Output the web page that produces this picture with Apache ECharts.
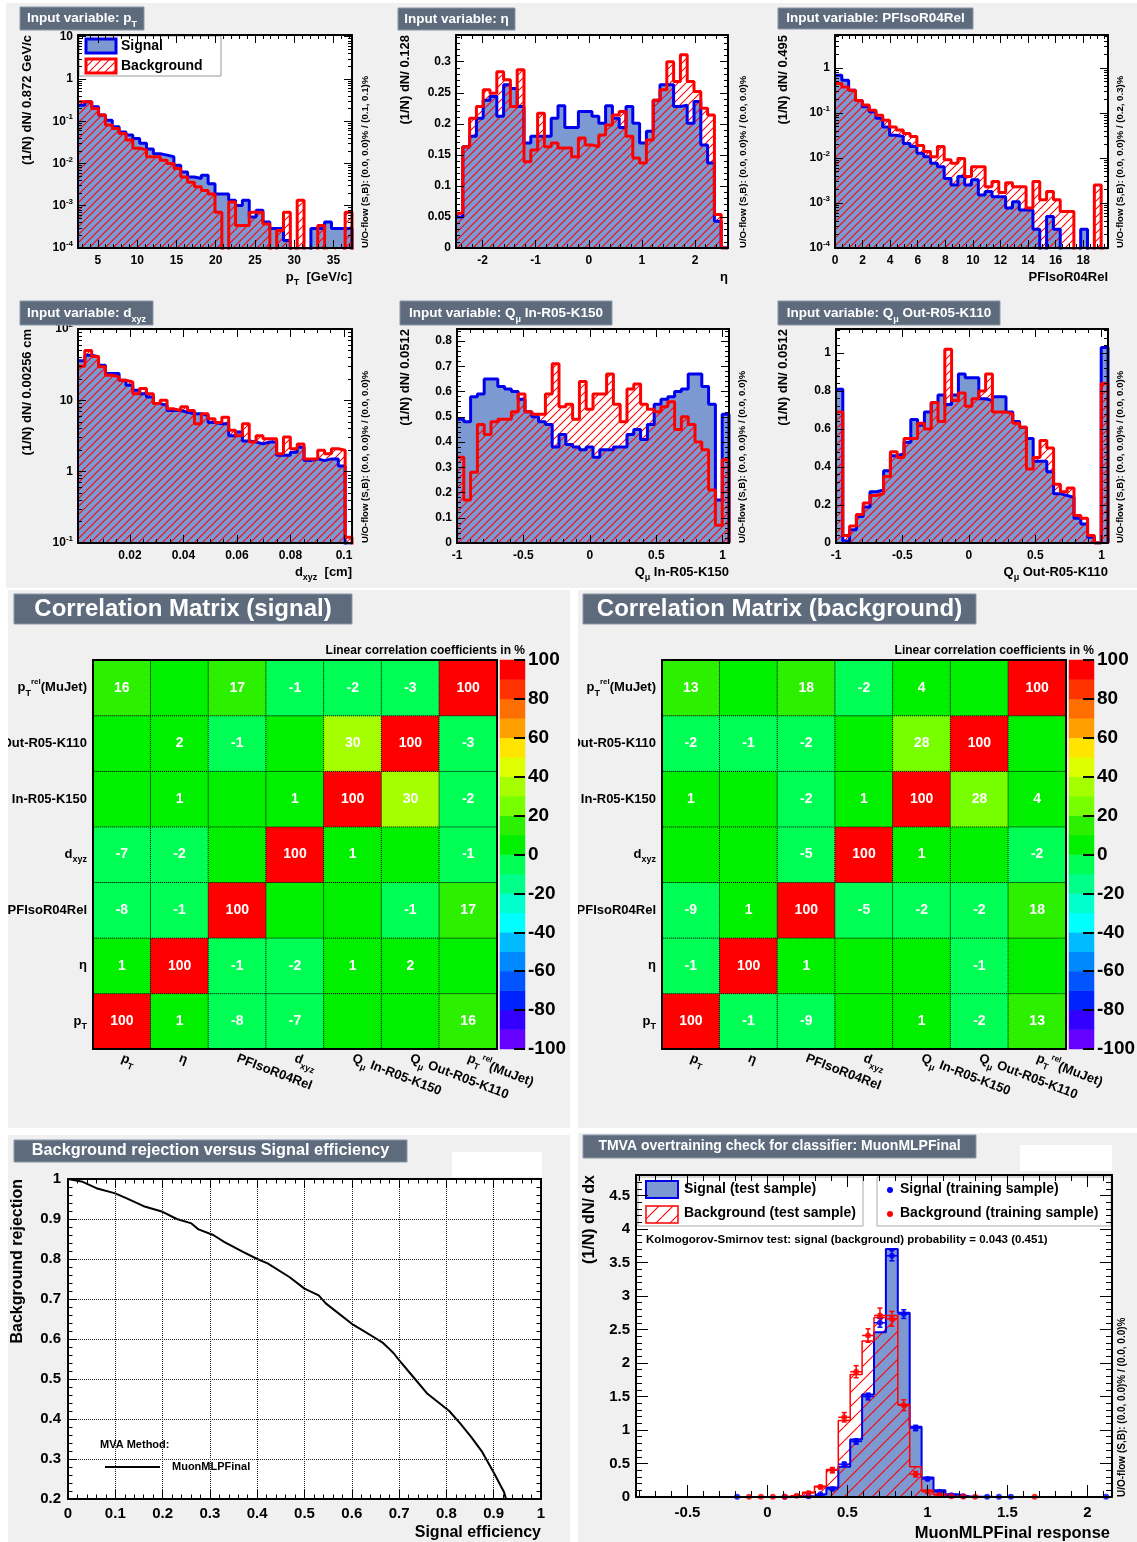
<!DOCTYPE html>
<html>
<head>
<meta charset="utf-8">
<script src="https://cdn.jsdelivr.net/npm/echarts@6.0.0/dist/echarts.min.js"></script>
<style>
html,body{margin:0;padding:0;background:#ffffff;}
body{position:relative;width:1137px;height:1542px;overflow:hidden;}
.pn{position:absolute;}
</style>
</head>
<body>
<div id="pTop" class="pn" style="left:6px;top:3px;width:1131px;height:585px"></div>
<div id="pCS" class="pn" style="left:8px;top:590px;width:562px;height:538px"></div>
<div id="pCB" class="pn" style="left:578px;top:590px;width:559px;height:538px"></div>
<div id="pROC" class="pn" style="left:8px;top:1135px;width:562px;height:407px"></div>
<div id="pTM" class="pn" style="left:578px;top:1133px;width:559px;height:409px"></div>
<script>
// ======================= DATA =======================
// Input-variable histograms (40 bins each, (1/N) dN/dx)
const ptBins = {lo: 2.47, width: 0.872};
const ptSig = [0.24, 0.29, 0.22, 0.14, 0.106, 0.074, 0.056, 0.047, 0.039, 0.030, 0.022, 0.017, 0.0158, 0.0144, 0.0091, 0.0063, 0.0048, 0.0044, 0.0053, 0.0033, 0.0019, 0.0019, 0.00135, 0.00102, 0.00135, 0.00054, 0.00078, 0.00041, 0.00029, 0.00029, 0.00015, 0, 0, 0, 0.00029, 0.00029, 0.00041, 0.00029, 0.00029, 0.00029];
const ptBkg = [0.29, 0.29, 0.20, 0.14, 0.081, 0.067, 0.051, 0.036, 0.023, 0.021, 0.0144, 0.0144, 0.012, 0.010, 0.0076, 0.0048, 0.0036, 0.0028, 0.0023, 0.0019, 0.0007, 0, 0.00123, 0.00034, 0.00034, 0.0007, 0.0007, 0.00037, 0, 0.00026, 0.0007, 0, 0.00135, 0, 0, 0.00034, 0, 0, 0, 0.0007];

const etaBins = {lo: -2.5, width: 0.128};
const etaSig = [0.050, 0.163, 0.180, 0.209, 0.238, 0.244, 0.212, 0.263, 0.257, 0.228, 0.169, 0.180, 0.180, 0.180, 0.209, 0.229, 0.194, 0.194, 0.220, 0.220, 0.212, 0.201, 0.229, 0.209, 0.194, 0.228, 0.201, 0.169, 0.188, 0.238, 0.263, 0.263, 0.228, 0.230, 0.201, 0.236, 0.166, 0.137, 0.043, 0];
const etaBkg = [0.056, 0.163, 0.209, 0.228, 0.255, 0.249, 0.284, 0.271, 0.228, 0.287, 0.139, 0.158, 0.217, 0.163, 0.169, 0.161, 0.161, 0.147, 0.177, 0.166, 0.163, 0.182, 0.198, 0.214, 0.220, 0.180, 0.145, 0.137, 0.174, 0.238, 0.255, 0.300, 0.268, 0.311, 0.268, 0.252, 0.225, 0.214, 0.054, 0];

const isoBins = {lo: 0, width: 0.495};
const isoSig = [0.69, 0.53, 0.32, 0.19, 0.137, 0.106, 0.076, 0.049, 0.032, 0.030, 0.021, 0.018, 0.0127, 0.0107, 0.0076, 0.0064, 0.0035, 0.0025, 0.0039, 0.0025, 0.0033, 0.0015, 0.0018, 0.00138, 0.00138, 0.00077, 0.00106, 0.0007, 0.0007, 0.00026, 0, 0.0005, 0.00026, 0, 0, 0, 0.00026, 0, 0, 0];
const isoBkg = [0.45, 0.38, 0.32, 0.19, 0.15, 0.115, 0.089, 0.069, 0.049, 0.042, 0.035, 0.030, 0.019, 0.014, 0.0107, 0.018, 0.0091, 0.0076, 0.0098, 0.0039, 0.0064, 0.0064, 0.0023, 0.0030, 0.0017, 0.0028, 0.0023, 0.0023, 0.00077, 0.0030, 0.00118, 0.0018, 0.00118, 0.00065, 0.00065, 0, 0, 0, 0.0025, 0];

const dxyzBins = {lo: 0.0006, width: 0.00256};
const dxyzSig = [36, 43, 41, 31, 23.7, 23.7, 19.1, 16.3, 13.8, 12.4, 11.1, 9.0, 8.5, 7.2, 7.2, 6.8, 6.5, 6.5, 6.1, 4.9, 4.7, 4.7, 3.2, 3.6, 2.7, 2.6, 2.45, 2.6, 2.6, 1.7, 1.7, 1.87, 2.2, 1.43, 1.51, 1.43, 1.51, 1.51, 1.2, 0.09];
const dxyzBkg = [30, 50, 41, 29.5, 22.5, 21.3, 19.1, 18.1, 12.4, 14.6, 12.4, 9.0, 10, 7.6, 7.2, 8.1, 7.2, 4.7, 6.5, 5.5, 4.9, 5.8, 3.8, 3.2, 4.7, 2.6, 3.2, 2.9, 2.9, 1.78, 3.05, 2.09, 2.45, 1.51, 1.51, 2.0, 1.78, 2.09, 2.0, 0.12];

const qinBins = {lo: -1, width: 0.0512};
const qinSig = [0.49, 0.48, 0.58, 0.59, 0.65, 0.65, 0.62, 0.61, 0.60, 0.57, 0.52, 0.50, 0.48, 0.47, 0.38, 0.43, 0.39, 0.38, 0.37, 0.38, 0.34, 0.37, 0.37, 0.38, 0.38, 0.43, 0.45, 0.41, 0.47, 0.55, 0.57, 0.58, 0.60, 0.61, 0.67, 0.67, 0.62, 0.55, 0.17, 0.51];
const qinBkg = [0.34, 0.17, 0.28, 0.47, 0.43, 0.48, 0.49, 0.49, 0.52, 0.59, 0.52, 0.51, 0.51, 0.59, 0.71, 0.54, 0.55, 0.49, 0.64, 0.53, 0.59, 0.59, 0.67, 0.55, 0.48, 0.61, 0.63, 0.55, 0.53, 0.52, 0.54, 0.56, 0.45, 0.50, 0.47, 0.40, 0.37, 0.21, 0.07, 0.33];

const qoutBins = {lo: -1, width: 0.0512};
const qoutSig = [0.81, 0.01, 0.07, 0.14, 0.19, 0.27, 0.28, 0.38, 0.46, 0.47, 0.53, 0.65, 0.62, 0.69, 0.74, 0.78, 0.73, 0.78, 0.89, 0.87, 0.87, 0.76, 0.75, 0.77, 0.77, 0.69, 0.64, 0.61, 0.55, 0.43, 0.43, 0.375, 0.26, 0.25, 0.24, 0.13, 0.10, 0.03, 0, 1.03];
const qoutBkg = [0.69, 0.04, 0.09, 0.15, 0.21, 0.25, 0.26, 0.35, 0.48, 0.45, 0.55, 0.55, 0.63, 0.60, 0.74, 0.64, 1.02, 0.75, 0.79, 0.72, 0.76, 0.80, 0.89, 0.69, 0.69, 0.68, 0.63, 0.61, 0.39, 0.45, 0.54, 0.50, 0.31, 0.27, 0.29, 0.145, 0.13, 0.04, 0, 0.84];

// Correlation matrices (%), variable order below; row i / column j
const corrVars = ['p{s|T}', 'η', 'PFIsoR04Rel', 'd{s|xyz}', 'Q{s|μ} In-R05-K150', 'Q{s|μ} Out-R05-K110', 'p{s|T}{u|rel}(MuJet)'];
const corrSignal = [
  [100, 1, -8, -7, 0, 0, 16],
  [1, 100, -1, -2, 1, 2, 0],
  [-8, -1, 100, 0, 0, -1, 17],
  [-7, -2, 0, 100, 1, 0, -1],
  [0, 1, 0, 1, 100, 30, -2],
  [0, 2, -1, 0, 30, 100, -3],
  [16, 0, 17, -1, -2, -3, 100]
];
const corrBackground = [
  [100, -1, -9, 0, 1, -2, 13],
  [-1, 100, 1, 0, 0, -1, 0],
  [-9, 1, 100, -5, -2, -2, 18],
  [0, 0, -5, 100, 1, 0, -2],
  [1, 0, -2, 1, 100, 28, 4],
  [-2, -1, -2, 0, 28, 100, 0],
  [13, 0, 18, -2, 4, 0, 100]
];
const colorbarLevels = [-95, -85, -75, -65, -55, -45, -35, -25, -15, -5, 5, 15, 25, 35, 45, 55, 65, 75, 85, 95];
const colorbarTicks = [-100, -80, -60, -40, -20, 0, 20, 40, 60, 80, 100];

// ROC curve
const rocEff = [0, 0.031, 0.06, 0.10, 0.123, 0.16, 0.20, 0.23, 0.261, 0.276, 0.307, 0.33, 0.37, 0.40, 0.422, 0.468, 0.50, 0.53, 0.545, 0.60, 0.622, 0.653, 0.665, 0.676, 0.688, 0.70, 0.73, 0.76, 0.806, 0.83, 0.853, 0.876, 0.902, 0.922, 0.926];
const rocRej = [1.0, 0.993, 0.977, 0.964, 0.952, 0.932, 0.918, 0.90, 0.889, 0.874, 0.86, 0.843, 0.818, 0.80, 0.789, 0.755, 0.726, 0.709, 0.689, 0.638, 0.622, 0.60, 0.591, 0.579, 0.565, 0.547, 0.505, 0.463, 0.42, 0.388, 0.354, 0.317, 0.262, 0.217, 0.2];

// Overtraining check: MuonMLPFinal response (40 bins)
const respBins = {lo: -0.822, width: 0.0744};
const respSigTest = [0,0,0,0,0,0,0,0,0,0, 0,0,0,0.004,0.012,0.04,0.14,0.45,0.86,1.53, 2.46,3.70,2.75,1.05,0.29,0.10,0.04,0.012,0.005,0.002, 0,0,0,0,0,0,0,0,0,0];
const respBkgTest = [0,0,0,0,0,0,0,0,0,0.003, 0.004,0.005,0.01,0.02,0.07,0.16,0.41,1.14,1.83,2.33, 2.68,2.71,1.38,0.45,0.10,0.04,0.015,0.006,0.003,0, 0,0,0,0.002,0,0,0,0,0,0];
const respSigTrain = [null,null,null,null,null,null,null,null,0.003,null, null,null,0.003,null,0.01,0.04,0.12,0.49,0.83,1.50, 2.60,3.60,2.73,1.03,0.27,0.08,0.025,0.01,null,0.003, 0.003,0.003,null,null,null,null,null,null,null,0.003];
const respSigTrainErr = [null,null,null,null,null,null,null,null,0.003,null, null,null,0.003,null,0.005,0.01,0.02,0.03,0.04,0.05, 0.065,0.075,0.065,0.04,0.02,0.01,0.006,0.004,null,0.003, 0.003,0.003,null,null,null,null,null,null,null,0.003];
const respBkgTrain = [null,null,null,null,null,null,null,null,null,0.003, 0.004,0.004,0.005,0.02,0.06,0.15,0.40,1.19,1.87,2.41, 2.71,2.66,1.37,0.34,0.08,0.03,0.01,0.006,0.004,null, null,null,null,0.003,null,null,null,null,null,null];
const respBkgTrainErr = [null,null,null,null,null,null,null,null,null,0.003, 0.003,0.003,0.003,0.008,0.015,0.025,0.04,0.07,0.09,0.10, 0.11,0.11,0.08,0.04,0.02,0.01,0.006,0.004,0.003,null, null,null,null,0.003,null,null,null,null,null,null];

// Tick label values
const ptTicks = [5, 10, 15, 20, 25, 30, 35];
const etaTicks = [-2, -1, 0, 1, 2];
const isoTicks = [0, 2, 4, 6, 8, 10, 12, 14, 16, 18];
const dxyzTicks = [0.02, 0.04, 0.06, 0.08, 0.1];
const qTicks = [-1, -0.5, 0, 0.5, 1];
const etaYTicks = [0, 0.05, 0.1, 0.15, 0.2, 0.25, 0.3];
const qinYTicks = [0, 0.1, 0.2, 0.3, 0.4, 0.5, 0.6, 0.7, 0.8];
const qoutYTicks = [0, 0.2, 0.4, 0.6, 0.8, 1];
const respXTicks = [-0.5, 0, 0.5, 1, 1.5, 2];
const respYTicks = [0, 0.5, 1, 1.5, 2, 2.5, 3, 3.5, 4, 4.5];

// ======================= STYLE / HELPERS =======================
const FONT = '"Liberation Sans", Arial, Helvetica, sans-serif';
const C_SIGF = '#7d99d1', C_SIGL = '#0000ee', C_BKG = '#ff0000';
const C_TBOX = '#5d6b7d', C_TBORD = '#8a97a8', C_CANVAS = '#f0f0f0';
const PALETTE = ['#6600ff','#3300ff','#0022ff','#0055ff','#0088ff','#00bbff','#00ffff','#00ffcc','#00ff88','#00ff55',
                 '#00f000','#2cf000','#77ff00','#a6ff00','#ddff00','#ffe400','#ffa000','#ff6e00','#ff3300','#ff0000'];

function hatch(size, lw) {
  const c = document.createElement('canvas'); c.width = size; c.height = size;
  const g = c.getContext('2d'); g.strokeStyle = '#ff0000'; g.lineWidth = lw;
  g.beginPath();
  for (const k of [-1, 0, 1]) { g.moveTo(k * size, size); g.lineTo(k * size + size, 0); }
  g.stroke();
  return c;
}
const HATCH = {image: hatch(8, 1.1), repeat: 'repeat'};
const HATCH2 = {image: hatch(14, 1.1), repeat: 'repeat'};

function seq(a, b, s) { const o = []; const n = Math.round((b - a) / s); for (let i = 0; i <= n; i++) o.push(+(a + i * s).toFixed(8)); return o; }
function logMajor(lo, hi) { const o = []; for (let e = -8; e <= 8; e++) { const v = +Math.pow(10, e).toPrecision(6); if (v >= lo * 0.999 && v <= hi * 1.001) o.push(v); } return o; }
function logMinor(lo, hi) { const o = []; for (let e = -8; e <= 8; e++) for (let m = 2; m < 10; m++) { const v = +(m * Math.pow(10, e)).toPrecision(6); if (v > lo && v < hi) o.push(v); } return o; }
const logFmt = v => { const e = Math.round(Math.log10(v)); return e === 0 ? '1' : (e === 1 ? '10' : '10{u|' + e + '}'); };
const numFmt = v => String(+(+v).toFixed(6));

const RICH_AX = {
  u: {fontSize: 8, fontWeight: 'bold', fontFamily: FONT, color: '#000', verticalAlign: 'top', lineHeight: 8},
  s: {fontSize: 9, fontWeight: 'bold', fontFamily: FONT, color: '#000', verticalAlign: 'bottom', lineHeight: 9}
};
function richG(color, fs) {
  return {
    s: {fontSize: fs, fontWeight: 'bold', fontFamily: FONT, fill: color, verticalAlign: 'bottom', lineHeight: fs},
    u: {fontSize: fs, fontWeight: 'bold', fontFamily: FONT, fill: color, verticalAlign: 'top', lineHeight: fs}
  };
}

function makePanel(box) { return {box, grid: [], xAxis: [], yAxis: [], series: [], graphic: []}; }
function addGrid(P, x0, y0, x1, y1, bg) {
  P.grid.push({left: x0 - P.box.x, top: y0 - P.box.y, width: x1 - x0, height: y1 - y0, show: true,
    backgroundColor: bg || '#ffffff', borderWidth: 0, containLabel: false, outerBoundsMode: 'none'});
  return P.grid.length - 1;
}
// frame of value/log axes on all four sides with major/minor inside ticks
function addAxes(P, gi, dir, s) {
  const arr = dir === 'x' ? P.xAxis : P.yAxis;
  const pos = dir === 'x' ? ['bottom', 'top'] : ['left', 'right'];
  const common = {gridIndex: gi, type: s.type || 'value', min: s.min, max: s.max, splitLine: {show: false}, z: 6, silent: true};
  if (s.type === 'log') common.logBase = 10;
  const major = s.major, minor = s.minor;
  const tick = {color: '#000', width: 1};
  const idx = arr.length;
  arr.push(Object.assign({}, common, {position: pos[0],
    axisLine: {show: true, onZero: false, lineStyle: {color: '#000', width: s.lw || 2}},
    axisTick: {show: true, inside: true, length: s.len, customValues: major, lineStyle: tick},
    axisLabel: {show: true, customValues: major, formatter: s.fmt || numFmt, margin: s.margin, color: '#000',
      fontFamily: FONT, fontWeight: 'bold', fontSize: s.fs, rich: RICH_AX, lineHeight: 16}}));
  arr.push(Object.assign({}, common, {position: pos[0], axisLine: {show: false, onZero: false},
    axisTick: {show: true, inside: true, length: s.len / 2, customValues: minor, lineStyle: tick}, axisLabel: {show: false}}));
  arr.push(Object.assign({}, common, {position: pos[1],
    axisLine: {show: true, onZero: false, lineStyle: {color: '#000', width: s.lw || 2}},
    axisTick: {show: true, inside: true, length: s.len, customValues: major, lineStyle: tick}, axisLabel: {show: false}}));
  arr.push(Object.assign({}, common, {position: pos[1], axisLine: {show: false, onZero: false},
    axisTick: {show: true, inside: true, length: s.len / 2, customValues: minor, lineStyle: tick}, axisLabel: {show: false}}));
  return idx;
}
function addHist(P, xi, yi, bins, vals, o) {
  const N = vals.length, zero = o.log ? 1e-9 : 0;
  const data = vals.map((v, i) => [bins.lo + i * bins.width, v > 0 ? v : zero]);
  const xe = bins.lo + N * bins.width;
  data.push([xe, vals[N - 1] > 0 ? vals[N - 1] : zero]);
  data.push([xe, zero]);
  P.series.push({type: 'line', xAxisIndex: xi, yAxisIndex: yi, data, step: 'end', symbol: 'none', showSymbol: false,
    silent: true, animation: false, clip: true, z: 2,
    lineStyle: {color: o.line, width: o.lw}, areaStyle: {color: o.fill, opacity: 1, origin: 'auto'}});
}
function T(P, x, y, text, o) {
  o = o || {};
  const st = {text, fill: o.color || '#000', fontSize: o.fs || 13, fontWeight: 'bold', fontFamily: FONT,
    align: o.align || 'left', verticalAlign: o.va || 'middle'};
  if (o.rich) { st.rich = o.rich; st.lineHeight = o.lh || 20; }
  P.graphic.push({type: 'text', x: x - P.box.x, y: y - P.box.y, rotation: o.rot || 0, z: o.z || 10, silent: true, style: st});
}
function R(P, x0, y0, x1, y1, o) {
  P.graphic.push({type: 'rect', z: o.z || 9, silent: true,
    shape: {x: x0 - P.box.x, y: y0 - P.box.y, width: x1 - x0, height: y1 - y0},
    style: {fill: o.fill || 'none', stroke: o.stroke || 'none', lineWidth: o.lw || 0}});
}
function titleBox(P, x0, y0, x1, y1, text, fs) {
  R(P, x0, y0, x1, y1, {fill: C_TBOX, stroke: C_TBORD, lw: 1, z: 20});
  T(P, (x0 + x1) / 2, (y0 + y1) / 2, text, {fs, color: '#fff', align: 'center', rich: richG('#fff', Math.round(fs * 0.68)), lh: fs + 8, z: 21});
}
function render(id, P, extra) {
  const ch = echarts.init(document.getElementById(id), null, {renderer: 'canvas'});
  ch.setOption(Object.assign({animation: false, backgroundColor: C_CANVAS, textStyle: {fontFamily: FONT},
    grid: P.grid, xAxis: P.xAxis, yAxis: P.yAxis, series: P.series, graphic: P.graphic}, extra || {}));
}

// ======================= PANEL 1: INPUT VARIABLES =======================
const TOP = makePanel({x: 6, y: 3});
const INPUTS = [
  {sig: ptSig, bkg: ptBkg, bins: ptBins, fr: [78, 35, 352, 248],
   x: {min: 2.47, max: 37.35, major: ptTicks, minor: seq(3, 37, 1)}, y: {type: 'log', min: 1e-4, max: 11},
   title: [20, 7, 144, 30, 'Input variable: p{s|T}'], ytitle: '(1/N) dN/ 0.872 GeV/c', xtitle: 'p{s|T}  [GeV/c]',
   uo: 'U/O-flow (S,B): (0.0, 0.0)% / (0.1, 0.1)%', ytx: 27, uox: 365},
  {sig: etaSig, bkg: etaBkg, bins: etaBins, fr: [456, 35, 728, 248],
   x: {min: -2.5, max: 2.62, major: etaTicks, minor: seq(-2.4, 2.6, 0.2)}, y: {min: 0, max: 0.343, major: etaYTicks, minor: seq(0.01, 0.34, 0.01)},
   title: [398, 8, 515, 30, 'Input variable: η'], ytitle: '(1/N) dN/ 0.128', xtitle: 'η',
   uo: 'U/O-flow (S,B): (0.0, 0.0)% / (0.0, 0.0)%', ytx: 405, uox: 743},
  {sig: isoSig, bkg: isoBkg, bins: isoBins, fr: [835, 35, 1108, 248],
   x: {min: 0, max: 19.8, major: isoTicks, minor: seq(0.5, 19.5, 0.5)}, y: {type: 'log', min: 1e-4, max: 5.4},
   title: [778, 8, 973, 29, 'Input variable: PFIsoR04Rel'], ytitle: '(1/N) dN/ 0.495', xtitle: 'PFIsoR04Rel',
   uo: 'U/O-flow (S,B): (0.0, 0.0)% / (0.2, 0.3)%', ytx: 783, uox: 1120},
  {sig: dxyzSig, bkg: dxyzBkg, bins: dxyzBins, fr: [78, 329, 352, 543],
   x: {min: 0.0006, max: 0.103, major: dxyzTicks, minor: seq(0.005, 0.1, 0.005)}, y: {type: 'log', min: 0.1, max: 100},
   title: [20, 301, 153, 325, 'Input variable: d{s|xyz}'], ytitle: '(1/N) dN/ 0.00256 cm', xtitle: 'd{s|xyz}  [cm]',
   uo: 'U/O-flow (S,B): (0.0, 0.0)% / (0.0, 0.0)%', ytx: 27, uox: 365},
  {sig: qinSig, bkg: qinBkg, bins: qinBins, fr: [457, 329, 729, 543],
   x: {min: -1, max: 1.048, major: qTicks, minor: seq(-0.9, 1, 0.1)}, y: {min: 0, max: 0.848, major: qinYTicks, minor: seq(0.02, 0.84, 0.02)},
   title: [400, 301, 612, 325, 'Input variable: Q{s|μ} In-R05-K150'], ytitle: '(1/N) dN/ 0.0512', xtitle: 'Q{s|μ} In-R05-K150',
   uo: 'U/O-flow (S,B): (0.0, 0.0)% / (0.0, 0.0)%', ytx: 405, uox: 742},
  {sig: qoutSig, bkg: qoutBkg, bins: qoutBins, fr: [836, 329, 1108, 543],
   x: {min: -1, max: 1.048, major: qTicks, minor: seq(-0.9, 1, 0.1)}, y: {min: 0, max: 1.127, major: qoutYTicks, minor: seq(0.04, 1.12, 0.04)},
   title: [778, 301, 1000, 325, 'Input variable: Q{s|μ} Out-R05-K110'], ytitle: '(1/N) dN/ 0.0512', xtitle: 'Q{s|μ} Out-R05-K110',
   uo: 'U/O-flow (S,B): (0.0, 0.0)% / (0.0, 0.0)%', ytx: 783, uox: 1120}
];
INPUTS.forEach(h => {
  const [x0, y0, x1, y1] = h.fr;
  const gi = addGrid(TOP, x0, y0, x1, y1, '#ffffff');
  const xi = addAxes(TOP, gi, 'x', Object.assign({len: 8, fs: 12, margin: 5}, h.x));
  const ys = Object.assign({len: 8, fs: 12, margin: 5}, h.y);
  const isLog = h.y.type === 'log';
  if (isLog) { ys.major = logMajor(h.y.min, h.y.max); ys.minor = logMinor(h.y.min, h.y.max); ys.fmt = logFmt; }
  const yi = addAxes(TOP, gi, 'y', ys);
  addHist(TOP, xi, yi, h.bins, h.sig, {line: C_SIGL, fill: C_SIGF, lw: 3, log: isLog});
  addHist(TOP, xi, yi, h.bins, h.bkg, {line: C_BKG, fill: HATCH, lw: 3, log: isLog});
  titleBox(TOP, h.title[0], h.title[1], h.title[2], h.title[3], h.title[4], 13.5);
  T(TOP, h.ytx, y0, h.ytitle, {fs: 13, rot: Math.PI / 2, align: 'right'});
  T(TOP, x1, y1 + 29, h.xtitle, {fs: 13, align: 'right', rich: richG('#000', 9), lh: 20});
  T(TOP, h.uox, y1, h.uo, {fs: 9.6, rot: Math.PI / 2, align: 'left'});
});
// legend (pT plot)
R(TOP, 79, 36, 221, 76, {fill: '#ffffff', stroke: '#999999', lw: 1, z: 4});
R(TOP, 86, 39, 116, 53, {fill: C_SIGF, stroke: C_SIGL, lw: 3, z: 5});
R(TOP, 86, 59, 116, 73, {fill: HATCH, stroke: C_BKG, lw: 3, z: 5});
T(TOP, 121, 46, 'Signal', {fs: 14, z: 5});
T(TOP, 121, 66, 'Background', {fs: 14, z: 5});
render('pTop', TOP);

// ======================= PANELS 2/3: CORRELATION MATRICES =======================
function buildCorr(id, box, fr, cb, titleR, title, M) {
  const P = makePanel(box);
  const g0 = addGrid(P, fr[0], fr[1], fr[2], fr[3], '#ffffff');
  const g1 = addGrid(P, cb[0], cb[1], cb[2], cb[3], 'transparent');
  const line = {show: true, onZero: false, lineStyle: {color: '#000', width: 2}};
  const lbl = {interval: 0, fontFamily: FONT, fontWeight: 'bold', fontSize: 13, color: '#000', rich: RICH_AX, lineHeight: 20};
  // grid 0 axes: x 0 (bottom), x 1 (top), y 0 (left), y 1 (right)
  P.xAxis.push({gridIndex: g0, type: 'category', data: corrVars, position: 'bottom', z: 6, axisLine: line, axisTick: {show: false},
    axisLabel: Object.assign({rotate: -21, margin: 9}, lbl), splitLine: {show: false}});
  P.xAxis.push({gridIndex: g0, type: 'category', data: corrVars, position: 'top', z: 6, axisLine: line, axisTick: {show: false}, axisLabel: {show: false}});
  P.yAxis.push({gridIndex: g0, type: 'category', data: corrVars, position: 'left', z: 6, axisLine: line, axisTick: {show: false},
    axisLabel: Object.assign({margin: 6}, lbl), splitLine: {show: false}});
  P.yAxis.push({gridIndex: g0, type: 'category', data: corrVars, position: 'right', z: 6, axisLine: line, axisTick: {show: false}, axisLabel: {show: false}});
  // grid 1 (colour bar) axes: x 2, y 2 (category levels), y 3 (value labels)
  P.xAxis.push({gridIndex: g1, type: 'category', data: ['cb'], show: false});
  P.yAxis.push({gridIndex: g1, type: 'category', data: colorbarLevels.map(String), show: false});
  P.yAxis.push({gridIndex: g1, type: 'value', min: -100, max: 100, position: 'right', z: 6,
    axisLine: {show: false}, splitLine: {show: false},
    axisTick: {show: true, inside: true, length: 11, customValues: colorbarTicks, lineStyle: {color: '#000', width: 2}},
    axisLabel: {customValues: colorbarTicks, margin: 3, fontSize: 19, fontWeight: 'bold', fontFamily: FONT, color: '#000'}});
  const data = [];
  M.forEach((row, i) => row.forEach((v, j) => data.push([j, i, v])));
  P.series.push({type: 'heatmap', xAxisIndex: 0, yAxisIndex: 0, data, z: 2, silent: true, emphasis: {disabled: true},
    itemStyle: {borderColor: '#000', borderWidth: 1, borderType: 'dotted'},
    label: {show: true, color: '#fff', fontSize: 14, fontWeight: 'bold', fontFamily: FONT,
      formatter: p => (p.value[2] === 0 ? '' : String(p.value[2]))}});
  P.series.push({type: 'heatmap', xAxisIndex: 2, yAxisIndex: 2, data: colorbarLevels.map((v, i) => [0, i, v]), z: 2, silent: true,
    emphasis: {disabled: true}, label: {show: false}});
  const pieces = PALETTE.map((c, k) => k === 19 ? {gte: 90, lte: 100, color: c} : {gte: -100 + 10 * k, lt: -90 + 10 * k, color: c});
  titleBox(P, titleR[0], titleR[1], titleR[2], titleR[3], title, 24);
  T(P, cb[2], 651, 'Linear correlation coefficients in %', {fs: 12, align: 'right'});
  render(id, P, {visualMap: {type: 'piecewise', show: false, dimension: 2, seriesIndex: [0, 1], pieces}});
}
buildCorr('pCS', {x: 8, y: 590}, [93, 660, 497, 1049], [500, 660, 525, 1049], [14, 594, 352, 624], 'Correlation Matrix (signal)', corrSignal);
buildCorr('pCB', {x: 578, y: 590}, [662, 660, 1066, 1049], [1069, 660, 1094, 1049], [583, 594, 976, 624], 'Correlation Matrix (background)', corrBackground);

// ======================= PANEL 4: ROC =======================
(function () {
  const P = makePanel({x: 8, y: 1135});
  const gi = addGrid(P, 68, 1179, 541, 1499, '#ffffff');
  const mk = (pos, min, show) => ({gridIndex: gi, type: 'value', min, max: 1, interval: 0.1, position: pos, z: 6, silent: true,
    axisLine: {show: true, onZero: false, lineStyle: {color: '#000', width: 2}},
    axisTick: {show: true, inside: true, length: 9, lineStyle: {color: '#000'}},
    minorTick: {show: true, splitNumber: 5, length: 4.5, lineStyle: {color: '#000'}},
    axisLabel: {show, margin: 7, fontSize: 15, fontWeight: 'bold', fontFamily: FONT, color: '#000'},
    splitLine: {show: show, lineStyle: {color: '#222', width: 1, type: 'dotted'}}});
  P.xAxis.push(mk('bottom', 0, true), mk('top', 0, false));
  P.yAxis.push(mk('left', 0.2, true), mk('right', 0.2, false));
  P.series.push({type: 'line', xAxisIndex: 0, yAxisIndex: 0, data: rocEff.map((e, i) => [e, rocRej[i]]), symbol: 'none',
    lineStyle: {color: '#000', width: 2}, clip: true, z: 3, silent: true});
  titleBox(P, 14, 1140, 407, 1162, 'Background rejection versus Signal efficiency', 16.3);
  R(P, 452, 1152, 542, 1177, {fill: '#ffffff', z: 20});
  T(P, 18, 1179, 'Background rejection', {fs: 16, rot: Math.PI / 2, align: 'right'});
  T(P, 541, 1533, 'Signal efficiency', {fs: 16, align: 'right'});
  T(P, 100, 1445, 'MVA Method:', {fs: 11});
  P.graphic.push({type: 'line', z: 10, silent: true, shape: {x1: 105 - 8, y1: 1467 - 1135, x2: 160 - 8, y2: 1467 - 1135}, style: {stroke: '#000', lineWidth: 2}});
  T(P, 172, 1467, 'MuonMLPFinal', {fs: 11});
  render('pROC', P);
})();

// ======================= PANEL 5: OVERTRAINING =======================
(function () {
  const P = makePanel({x: 578, y: 1133});
  const gi = addGrid(P, 636, 1175, 1112, 1497, '#ffffff');
  const xmax = respBins.lo + respSigTest.length * respBins.width;
  const xi = addAxes(P, gi, 'x', {min: respBins.lo, max: xmax, major: respXTicks, minor: seq(-0.8, 2.1, 0.1), len: 12, fs: 15, margin: 8});
  const yi = addAxes(P, gi, 'y', {min: 0, max: 4.806, major: respYTicks, minor: seq(0.1, 4.8, 0.1), len: 12, fs: 15, margin: 6});
  addHist(P, xi, yi, respBins, respSigTest, {line: C_SIGL, fill: C_SIGF, lw: 2});
  addHist(P, xi, yi, respBins, respBkgTest, {line: C_BKG, fill: HATCH2, lw: 1.5});
  const hw = respBins.width / 2;
  function train(vals, errs, color) {
    const pts = [];
    vals.forEach((v, i) => { if (v !== null) pts.push([respBins.lo + (i + 0.5) * respBins.width, v, errs[i]]); });
    P.series.push({type: 'custom', xAxisIndex: xi, yAxisIndex: yi, data: pts, encode: {x: 0, y: 1}, clip: true, z: 3, silent: true,
      renderItem: (params, api) => {
        const xc = api.value(0), y = api.value(1), e = api.value(2);
        const a = api.coord([xc - hw, y]), b = api.coord([xc + hw, y]);
        const t = api.coord([xc, y + e]), u = api.coord([xc, y - e]);
        const st = {stroke: color, lineWidth: 1.5};
        return {type: 'group', children: [
          {type: 'line', shape: {x1: a[0], y1: a[1], x2: b[0], y2: b[1]}, style: st},
          {type: 'line', shape: {x1: t[0], y1: t[1], x2: u[0], y2: u[1]}, style: st},
          {type: 'line', shape: {x1: t[0] - 2.5, y1: t[1], x2: t[0] + 2.5, y2: t[1]}, style: st},
          {type: 'line', shape: {x1: u[0] - 2.5, y1: u[1], x2: u[0] + 2.5, y2: u[1]}, style: st}
        ]};
      }});
    P.series.push({type: 'scatter', xAxisIndex: xi, yAxisIndex: yi, data: pts.map(p => [p[0], p[1]]), symbol: 'circle', symbolSize: 6,
      itemStyle: {color}, z: 4, silent: true, clip: true});
  }
  train(respSigTrain, respSigTrainErr, '#0000ff');
  train(respBkgTrain, respBkgTrainErr, '#ff0000');
  titleBox(P, 583, 1135, 976, 1158, 'TMVA overtraining check for classifier: MuonMLPFinal', 14);
  R(P, 1020, 1145, 1112, 1171, {fill: '#ffffff', z: 20});
  // legends
  R(P, 638, 1177, 863, 1226, {fill: '#ffffff', stroke: '#aaaaaa', lw: 1, z: 4});
  R(P, 877, 1177, 1111, 1226, {fill: '#ffffff', stroke: '#aaaaaa', lw: 1, z: 4});
  R(P, 646, 1181, 678, 1198, {fill: C_SIGF, stroke: C_SIGL, lw: 2, z: 5});
  R(P, 646, 1206, 678, 1223, {fill: HATCH2, stroke: C_BKG, lw: 1.5, z: 5});
  T(P, 684, 1189, 'Signal (test sample)', {fs: 14, z: 5});
  T(P, 684, 1213, 'Background (test sample)', {fs: 14, z: 5});
  P.graphic.push({type: 'circle', z: 5, silent: true, shape: {cx: 890 - 578, cy: 1190 - 1133, r: 3}, style: {fill: '#0000ff'}});
  P.graphic.push({type: 'circle', z: 5, silent: true, shape: {cx: 890 - 578, cy: 1214 - 1133, r: 3}, style: {fill: '#ff0000'}});
  T(P, 900, 1189, 'Signal (training sample)', {fs: 14, z: 5});
  T(P, 900, 1213, 'Background (training sample)', {fs: 14, z: 5});
  T(P, 646, 1240, 'Kolmogorov-Smirnov test: signal (background) probability = 0.043 (0.451)', {fs: 11.5, z: 5});
  T(P, 590, 1175, '(1/N) dN/ dx', {fs: 16, rot: Math.PI / 2, align: 'right'});
  T(P, 1110, 1533, 'MuonMLPFinal response', {fs: 16.5, align: 'right'});
  T(P, 1122, 1497, 'U/O-flow (S,B): (0.0, 0.0)% / (0.0, 0.0)%', {fs: 10, rot: Math.PI / 2, align: 'left'});
  render('pTM', P);
})();
</script>
</body>
</html>
